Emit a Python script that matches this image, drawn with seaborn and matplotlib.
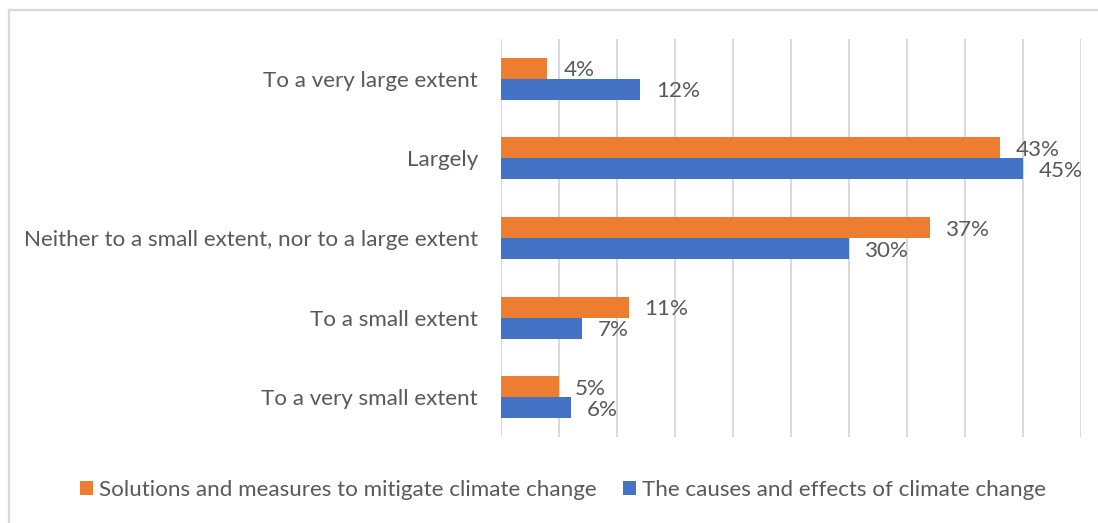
import matplotlib
matplotlib.use("Agg")
import matplotlib.pyplot as plt
from matplotlib.patches import Rectangle
import pandas as pd
import seaborn as sns

# Survey answers and shares (%) per topic
categories = [
    "To a very large extent",
    "Largely",
    "Neither to a small extent, nor to a large extent",
    "To a small extent",
    "To a very small extent",
]
series_names = [
    "Solutions and measures to mitigate climate change",
    "The causes and effects of climate change",
]
solutions = [4, 43, 37, 11, 5]
causes = [12, 45, 30, 7, 6]

colors = ["#ED7D31", "#4472C4"]
text_color = "#595959"
grid_color = "#D9D9D9"
fs = 16.1

df = pd.DataFrame({
    "answer": categories * 2,
    "series": [series_names[0]] * len(categories) + [series_names[1]] * len(categories),
    "value": solutions + causes,
})

sns.set_theme(style="white")
plt.rcParams["font.family"] = ["Lato", "DejaVu Sans"]

W, H = 1098, 523
fig = plt.figure(figsize=(W / 100, H / 100), dpi=100)
ax = fig.add_axes([501 / W, 1 - 437 / H, 580 / W, 398 / H])

sns.barplot(
    data=df, y="answer", x="value", hue="series",
    order=categories, hue_order=series_names,
    palette=colors, orient="h", width=0.53, saturation=1,
    linewidth=0, ax=ax, legend=True,
)

ax.set_xlim(0, 50)
ax.set_ylim(len(categories) - 0.5, -0.5)
ax.set_xticks(range(0, 51, 5))
ax.set_xticklabels([])
ax.xaxis.grid(True, color=grid_color, linewidth=1.4)
ax.set_axisbelow(True)
for s in ax.spines.values():
    s.set_visible(False)
ax.tick_params(axis="both", length=0)
ax.tick_params(axis="y", pad=16.5, labelsize=fs, labelcolor=text_color)
ax.set_xlabel("")
ax.set_ylabel("")

# value labels at the end of each bar
for container in ax.containers:
    for bar in container:
        w = bar.get_width()
        yc = bar.get_y() + bar.get_height() / 2
        ax.annotate(f"{w:.0f}%", xy=(w, yc), xytext=(11.5, -1.5),
                    textcoords="offset points", ha="left", va="center",
                    fontsize=fs, color=text_color)

handles, labels = ax.get_legend_handles_labels()
ax.get_legend().remove()
fig.legend(handles, labels, loc="center", bbox_to_anchor=(563 / W, 1 - 490 / H),
           ncol=2, frameon=False, fontsize=fs, labelcolor=text_color,
           handlelength=0.59, handleheight=0.59, handletextpad=0.27,
           columnspacing=1.2, borderpad=0)

# chart-area border
fig.add_artist(Rectangle((9 / W, -0.1), 1.2, 1 - 10 / H + 0.1,
                         transform=fig.transFigure, fill=False,
                         edgecolor=grid_color, linewidth=1.6))

fig.savefig("out.png", dpi=100)
